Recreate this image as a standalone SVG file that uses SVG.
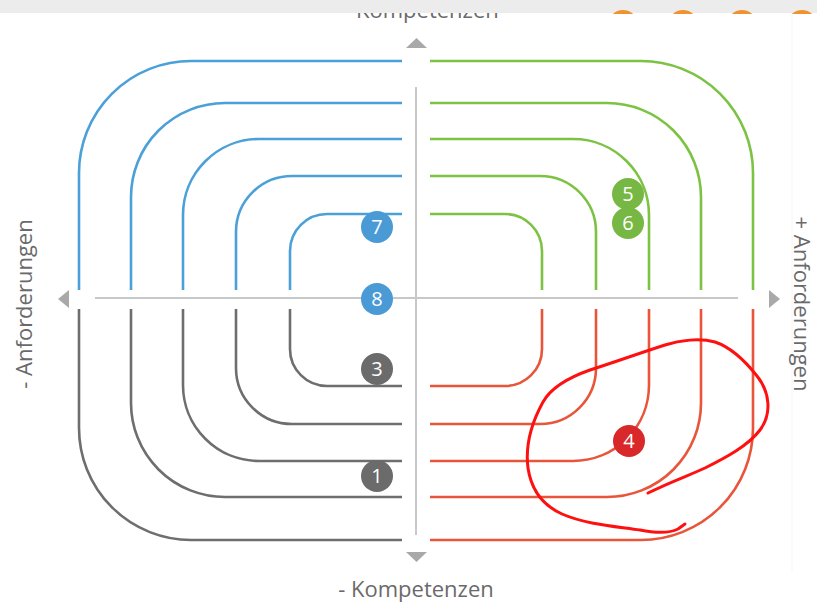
<svg xmlns="http://www.w3.org/2000/svg" width="817" height="604" viewBox="0 0 817 604">
<style>
.q{fill:none;stroke-width:2.6}
.b{stroke:#4ba0d9}.g{stroke:#7cc243}.k{stroke:#6e6e6e}.r{stroke:#e8553a}
.ax{stroke:#c8c8c8;stroke-width:2;fill:none}
.ar{fill:#a9a9a9}
.lbl{font-family:"Open Sans","Liberation Sans",sans-serif;font-size:22px;fill:#6a6a6a;text-anchor:middle}
.num{font-family:"Open Sans","Liberation Sans",sans-serif;font-size:20px;fill:#fff;text-anchor:middle}
</style>
<defs>
<clipPath id="topclip"><rect x="0" y="0" width="817" height="14"/></clipPath>
</defs>
<rect width="817" height="604" fill="#fff"/>
<line x1="792" y1="13" x2="792" y2="573" stroke="#f6f6f6" stroke-width="1"/>
<text class="lbl" x="421" y="18">- Kompetenzen</text>
<rect x="0" y="0" width="817" height="13" fill="#ececec"/>
<g clip-path="url(#topclip)" fill="#f0922e">
<circle cx="623" cy="25" r="15"/><circle cx="683" cy="25" r="15"/><circle cx="742" cy="25" r="15"/><circle cx="802" cy="25" r="15"/>
</g>
<g id="axes">
<line class="ax" x1="416" y1="87" x2="416" y2="535"/>
<line class="ax" x1="95" y1="298" x2="738" y2="298"/>
<polygon class="ar" points="406,48 427,48 416.5,38"/>
<polygon class="ar" points="406,552 427,552 416.5,562"/>
<polygon class="ar" points="69,290 69,308 58,299"/>
<polygon class="ar" points="769,290 769,308 780,299"/>
</g>
<g id="connectors">
<g id="blue">
<path class="q b" d="M402,61 H191 A112,112 0 0 0 79,173 V290"/>
<path class="q b" d="M402,103 H225 A94,94 0 0 0 131,197 V290"/>
<path class="q b" d="M402,139 H259 A76,76 0 0 0 183,215 V290"/>
<path class="q b" d="M402,176 H292 A56,56 0 0 0 236,232 V290"/>
<path class="q b" d="M402,214 H327 A37,37 0 0 0 290,251 V290"/>
</g>
<g id="green">
<path class="q g" d="M430,61 H641 A112,112 0 0 1 753,173 V290"/>
<path class="q g" d="M430,103 H607 A94,94 0 0 1 701,197 V290"/>
<path class="q g" d="M430,139 H573 A76,76 0 0 1 649,215 V290"/>
<path class="q g" d="M430,176 H540 A56,56 0 0 1 596,232 V290"/>
<path class="q g" d="M430,214 H505 A37,37 0 0 1 542,251 V290"/>
</g>
<g id="gray">
<path class="q k" d="M402,540 H191 A112,112 0 0 1 79,428 V309"/>
<path class="q k" d="M402,497 H225 A94,94 0 0 1 131,403 V309"/>
<path class="q k" d="M402,461 H259 A76,76 0 0 1 183,385 V309"/>
<path class="q k" d="M402,424 H292 A56,56 0 0 1 236,368 V309"/>
<path class="q k" d="M402,386 H327 A37,37 0 0 1 290,349 V309"/>
</g>
<g id="red">
<path class="q r" d="M430,540 H641 A112,112 0 0 0 753,428 V309"/>
<path class="q r" d="M430,497 H607 A94,94 0 0 0 701,403 V309"/>
<path class="q r" d="M430,461 H573 A76,76 0 0 0 649,385 V309"/>
<path class="q r" d="M430,424 H540 A56,56 0 0 0 596,368 V309"/>
<path class="q r" d="M430,386 H505 A37,37 0 0 0 542,349 V309"/>
</g>
</g>
<g id="n7"><circle cx="377" cy="227" r="16" fill="#4a9ad6"/><text class="num" x="377" y="234">7</text></g>
<g id="n8"><circle cx="377" cy="299" r="16" fill="#4a9ad6"/><text class="num" x="377" y="306">8</text></g>
<g id="n3"><circle cx="377" cy="369" r="16" fill="#6b6b6b"/><text class="num" x="377" y="376">3</text></g>
<g id="n1"><circle cx="377" cy="476" r="16" fill="#6b6b6b"/><text class="num" x="377" y="483">1</text></g>
<g id="n5"><circle cx="628" cy="194" r="16" fill="#76b843"/><text class="num" x="628" y="201">5</text></g>
<g id="n6"><circle cx="628" cy="223" r="16" fill="#76b843"/><text class="num" x="628" y="230">6</text></g>
<g id="n4"><circle cx="629" cy="441" r="16" fill="#d9282a"/><text class="num" x="629" y="448">4</text></g>
<path id="scribble" fill="none" stroke="#ff1010" stroke-width="3" stroke-linecap="round" stroke-linejoin="round" d="M648,493 C670,482 690,475 705,468 C725,458 748,446 760,430 C772,414 770,392 757,376 C746,362 733,348 715,342 C700,338 680,340 665,345 C640,353 615,362 590,370 C570,377 552,386 543,402 C532,422 525,445 528,468 C531,488 542,505 562,514 C585,524 612,526 640,530 C655,533 668,534 678,529 L685,524"/>
<text class="lbl" x="416" y="597">- Kompetenzen</text>
<text class="lbl" transform="translate(32,304) rotate(-90)">- Anforderungen</text>
<text class="lbl" transform="translate(794,304) rotate(90)">+ Anforderungen</text>
</svg>
